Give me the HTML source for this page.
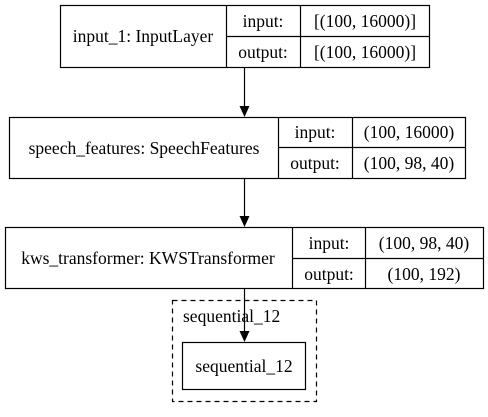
<!DOCTYPE html>
<html><head><meta charset="utf-8"><style>
html,body{margin:0;padding:0;background:#fff;width:488px;height:417px;overflow:hidden}
text{font-family:"Liberation Serif",serif;font-size:17.5px;fill:#000}
</style></head><body>
<svg width="488" height="417" viewBox="0 0 488 417" xmlns="http://www.w3.org/2000/svg">
<g stroke="#000" stroke-width="1.2" fill="none">
<g>
<rect x="60.5" y="5.5" width="369" height="62"/>
<line x1="226.5" y1="5.5" x2="226.5" y2="67.5"/><line x1="300.5" y1="5.5" x2="300.5" y2="67.5"/>
<line x1="226.5" y1="36.5" x2="429.5" y2="36.5"/>
</g>
<g>
<rect x="9.5" y="117.5" width="456" height="61"/>
<line x1="278.5" y1="117.5" x2="278.5" y2="178.5"/><line x1="352.5" y1="117.5" x2="352.5" y2="178.5"/>
<line x1="278.5" y1="147.5" x2="465.5" y2="147.5"/>
</g>
<g>
<rect x="5.5" y="227.5" width="478" height="61"/>
<line x1="292.5" y1="227.5" x2="292.5" y2="288.5"/><line x1="365.5" y1="227.5" x2="365.5" y2="288.5"/>
<line x1="292.5" y1="258.5" x2="483.5" y2="258.5"/>
</g>
<rect x="172.5" y="300.5" width="144" height="101" stroke-dasharray="5,4"/>
<rect x="182.5" y="342.5" width="123" height="47"/>
<line x1="244.5" y1="67.5" x2="244.5" y2="107"/>
<line x1="244.5" y1="178.5" x2="244.5" y2="217"/>
<line x1="244.5" y1="288.5" x2="244.5" y2="332"/>
</g>
<g fill="#000">
<polygon points="239.5,106 249.5,106 244.5,117"/>
<polygon points="239.5,216 249.5,216 244.5,227"/>
<polygon points="239.5,331 249.5,331 244.5,342"/>
</g>
<text x="143" y="42" text-anchor="middle">input_1: InputLayer</text>
<text x="263" y="27" text-anchor="middle">input:</text>
<text x="263" y="58" text-anchor="middle">output:</text>
<text x="365" y="27" text-anchor="middle">[(100, 16000)]</text>
<text x="365" y="58" text-anchor="middle">[(100, 16000)]</text>
<text x="144" y="154" text-anchor="middle">speech_features: SpeechFeatures</text>
<text x="315" y="138" text-anchor="middle">input:</text>
<text x="315" y="169" text-anchor="middle">output:</text>
<text x="409" y="138" text-anchor="middle">(100, 16000)</text>
<text x="409" y="169" text-anchor="middle">(100, 98, 40)</text>
<text x="148" y="264" text-anchor="middle">kws_transformer: KWSTransformer</text>
<text x="329" y="249" text-anchor="middle">input:</text>
<text x="329" y="280" text-anchor="middle">output:</text>
<text x="424" y="249" text-anchor="middle">(100, 98, 40)</text>
<text x="424" y="280" text-anchor="middle">(100, 192)</text>
<text x="183" y="322">sequential_12</text>
<text x="244" y="372" text-anchor="middle">sequential_12</text>
</svg>
</body></html>
